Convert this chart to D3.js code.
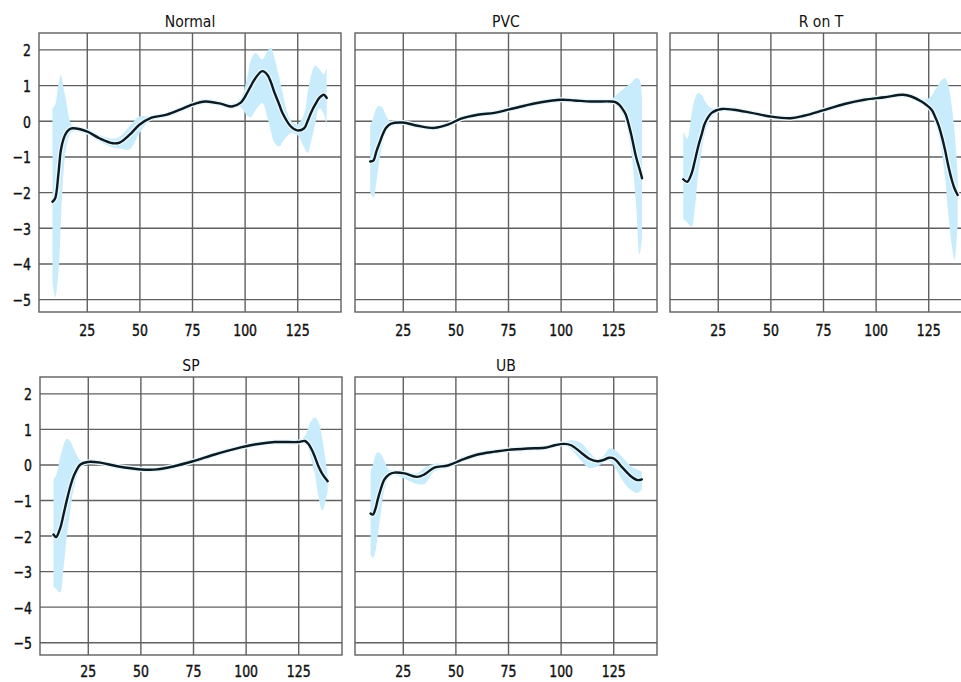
<!DOCTYPE html>
<html><head><meta charset="utf-8">
<script src="https://cdn.jsdelivr.net/npm/d3@7"></script>
<style>body{margin:0;background:#fff;} svg{display:block;font-family:"DejaVu Sans",sans-serif;}</style>
</head><body><svg id="c" width="961" height="682"></svg>
<script>
const panelTitles = ["Normal", "PVC", "R on T", "SP", "UB"];
const xTickValues = [25, 50, 75, 100, 125];
const yTickValues = [-5, -4, -3, -2, -1, 0, 1, 2];

const normalX    = [8.7, 10, 11.5, 12.7, 14, 15.1, 16.5, 18.3, 25, 31, 37.4, 40.6, 45.4, 50, 55, 63, 69.3, 75, 81.3, 88.5, 94, 98, 101.2, 103, 105.2, 108.4, 110.8, 112.5, 114, 116.5, 118, 122, 125, 128.3, 130, 131.5, 133.5, 135.5, 137.6, 139];
const normalMean = [-2.27, -2.17, -1.5, -0.82, -0.5, -0.35, -0.25, -0.21, -0.3, -0.49, -0.63, -0.61, -0.39, -0.11, 0.07, 0.17, 0.31, 0.45, 0.54, 0.48, 0.40, 0.5, 0.78, 0.98, 1.2, 1.39, 1.29, 1.08, 0.82, 0.45, 0.22, -0.16, -0.27, -0.21, 0.0, 0.22, 0.45, 0.64, 0.73, 0.64];
const normalHigh = [0.35, 0.45, 1.0, 1.28, 0.9, 0.6, 0.1, -0.15, -0.22, -0.4, -0.5, -0.45, -0.15, 0.12, 0.12, 0.22, 0.38, 0.52, 0.6, 0.54, 0.48, 0.62, 1.2, 1.7, 1.9, 1.72, 1.95, 2.05, 1.8, 1.2, 0.8, 0.0, -0.1, 0.2, 0.8, 1.25, 1.55, 1.45, 1.3, 1.5];
const normalLow  = [-4.5, -4.95, -4.3, -2.8, -1.4, -0.8, -0.45, -0.3, -0.38, -0.58, -0.75, -0.78, -0.8, -0.35, 0.0, 0.12, 0.25, 0.4, 0.48, 0.42, 0.33, 0.38, 0.15, 0.1, 0.3, 0.5, 0.1, -0.3, -0.6, -0.72, -0.6, -0.35, -0.4, -0.75, -0.9, -0.6, -0.1, 0.35, 0.2, -0.2];

const pvcX    = [9.5, 11, 12.5, 13.9, 15.5, 17, 19.5, 25, 32, 40, 46.4, 52.7, 60.6, 68.5, 75, 82.8, 90.7, 100.3, 106.6, 114.4, 123.9, 126, 127.8, 130, 131, 133.4, 135.8, 137.5, 138.7];
const pvcMean = [-1.14, -1.12, -0.85, -0.63, -0.38, -0.2, -0.08, -0.05, -0.14, -0.2, -0.11, 0.06, 0.17, 0.22, 0.31, 0.42, 0.52, 0.59, 0.57, 0.54, 0.54, 0.52, 0.45, 0.28, 0.17, -0.35, -1.0, -1.35, -1.61];
const pvcHigh = [-0.16, 0.1, 0.35, 0.42, 0.35, 0.15, -0.03, -0.01, -0.1, -0.16, -0.07, 0.1, 0.21, 0.26, 0.35, 0.46, 0.56, 0.63, 0.61, 0.58, 0.6, 0.7, 0.8, 0.9, 0.95, 1.05, 1.2, 1.15, 0.5];
const pvcLow  = [-2.0, -2.15, -1.7, -1.1, -0.6, -0.3, -0.13, -0.09, -0.18, -0.24, -0.15, 0.02, 0.13, 0.18, 0.27, 0.38, 0.48, 0.55, 0.53, 0.5, 0.5, 0.45, 0.35, 0.1, -0.05, -0.8, -2.3, -3.75, -3.3];

const ronTX    = [8.6, 10.5, 12.6, 14, 15.7, 17.5, 18.9, 22.1, 26.9, 32.5, 40.5, 50, 59.6, 66, 75, 85.2, 94.7, 104.3, 113, 117, 121.8, 124, 126.6, 128, 129.8, 131.5, 133, 134.5, 136.2, 137.5, 139];
const ronTMean = [-1.64, -1.71, -1.47, -1.15, -0.72, -0.35, -0.07, 0.22, 0.33, 0.31, 0.23, 0.12, 0.07, 0.14, 0.29, 0.47, 0.59, 0.66, 0.73, 0.68, 0.54, 0.45, 0.31, 0.15, -0.11, -0.45, -0.82, -1.25, -1.66, -1.9, -2.08];
const ronTHigh = [-0.3, -0.5, 0.2, 0.6, 0.78, 0.72, 0.55, 0.35, 0.37, 0.35, 0.27, 0.16, 0.11, 0.18, 0.33, 0.51, 0.63, 0.7, 0.77, 0.73, 0.6, 0.6, 0.7, 0.85, 1.0, 1.15, 1.2, 1.0, 0.4, -0.3, -1.5];
const ronTLow  = [-2.75, -2.85, -2.97, -2.5, -1.5, -0.8, -0.35, 0.1, 0.29, 0.27, 0.19, 0.08, 0.03, 0.1, 0.25, 0.43, 0.55, 0.62, 0.69, 0.64, 0.5, 0.4, 0.25, 0.0, -0.35, -0.9, -1.6, -2.6, -3.5, -3.9, -2.9];

const spX    = [8.7, 10, 11.9, 13.5, 15.1, 16.7, 18.3, 21.5, 25, 31, 39, 50.3, 58, 66, 75, 85.3, 95, 104.3, 113.8, 125, 128.2, 129.8, 131.4, 133, 134.6, 136.5, 139];
const spMean = [-1.97, -2.04, -1.79, -1.4, -0.99, -0.62, -0.33, 0.0, 0.07, 0.05, -0.05, -0.14, -0.14, -0.05, 0.09, 0.28, 0.44, 0.56, 0.63, 0.63, 0.66, 0.58, 0.42, 0.2, -0.05, -0.27, -0.47];
const spHigh = [-0.42, -0.3, 0.2, 0.55, 0.72, 0.65, 0.45, 0.12, 0.1, 0.08, -0.02, -0.11, -0.11, -0.02, 0.12, 0.31, 0.47, 0.59, 0.66, 0.66, 0.8, 1.05, 1.25, 1.32, 1.2, 0.7, -0.3];
const spLow  = [-3.45, -3.5, -3.6, -2.9, -2.0, -1.3, -0.7, -0.1, 0.03, 0.01, -0.09, -0.18, -0.18, -0.09, 0.05, 0.24, 0.4, 0.52, 0.59, 0.59, 0.6, 0.45, 0.1, -0.3, -0.9, -1.3, -0.75];

const ubX    = [9.7, 10.8, 12, 13.1, 14.5, 16.3, 18.5, 21, 25.8, 31.8, 35.3, 40, 46.4, 52.7, 60.6, 68.7, 75, 84.5, 92.4, 97.2, 101.6, 105, 109.8, 113.6, 117.6, 120.5, 123.1, 125.5, 129.4, 133.4, 136.6, 138.6];
const ubMean = [-1.38, -1.41, -1.25, -0.99, -0.7, -0.42, -0.28, -0.23, -0.25, -0.35, -0.28, -0.09, -0.03, 0.12, 0.28, 0.36, 0.41, 0.45, 0.47, 0.54, 0.58, 0.54, 0.33, 0.16, 0.09, 0.13, 0.19, 0.16, -0.09, -0.33, -0.44, -0.42];
const ubHigh = [-0.19, 0.0, 0.25, 0.35, 0.3, 0.1, -0.15, -0.18, -0.2, -0.25, -0.1, 0.02, 0.02, 0.16, 0.32, 0.4, 0.45, 0.49, 0.51, 0.58, 0.62, 0.68, 0.6, 0.35, 0.15, 0.25, 0.45, 0.42, 0.2, -0.05, -0.15, -0.2];
const ubLow  = [-2.55, -2.63, -2.45, -2.0, -1.4, -0.7, -0.35, -0.3, -0.4, -0.55, -0.55, -0.2, -0.1, 0.08, 0.24, 0.32, 0.37, 0.41, 0.43, 0.5, 0.54, 0.42, 0.1, -0.1, -0.05, 0.05, 0.1, -0.05, -0.45, -0.72, -0.8, -0.7];

const seriesX    = [normalX, pvcX, ronTX, spX, ubX];
const seriesMean = [normalMean, pvcMean, ronTMean, spMean, ubMean];
const seriesHigh = [normalHigh, pvcHigh, ronTHigh, spHigh, ubHigh];
const seriesLow  = [normalLow, pvcLow, ronTLow, spLow, ubLow];

// layout (pixels): [left, top, height, x-label baseline offset]
const panelPos = [[39, 33, 279, 24], [355, 33, 279, 24], [670, 33, 279, 24], [40, 377, 278, 22], [355, 377, 278, 22]];
const PW = 302;
const xDomain = [2.3, 145.8], yDomain = [-5.36, 2.46];

const svg = d3.select("#c");
const fmt = d => (d < 0 ? "\u2212" + Math.abs(d) : String(d));

panelTitles.forEach((title, i) => {
  const [left, top, PH, labOff] = panelPos[i];
  const g = svg.append("g").attr("transform", `translate(${left},${top})`);
  const x = d3.scaleLinear().domain(xDomain).range([0, PW]);
  const y = d3.scaleLinear().domain(yDomain).range([PH, 0]);
  const clipId = "clip" + i;
  g.append("clipPath").attr("id", clipId).append("rect").attr("width", PW).attr("height", PH);

  // grid + axes
  const yAx = g.append("g").call(d3.axisLeft(y).tickValues(yTickValues).tickSize(-PW).tickPadding(8)
      .tickFormat((i % 3 === 0) ? fmt : () => ""));
  const xAx = g.append("g").attr("transform", `translate(0,${PH})`)
      .call(d3.axisBottom(x).tickValues(xTickValues).tickSize(-PH).tickFormat(fmt));
  [yAx, xAx].forEach(a => {
    a.select(".domain").remove();
    a.selectAll("line").attr("stroke", "#606060").attr("stroke-width", 1.4);
    a.selectAll("text").attr("fill", "#111").attr("font-size", 12.5)
      .attr("stroke", "#111").attr("stroke-width", 0.35)
      .attr("font-family", "DejaVu Sans, sans-serif");
  });
  yAx.selectAll("text").attr("dy", null).attr("x", null)
     .attr("transform", "translate(-8,6.5) scale(1,1.3)").attr("text-anchor", "end");
  xAx.selectAll("text").attr("dy", null).attr("y", null)
     .attr("transform", `translate(0,${labOff}) scale(1,1.3)`).attr("text-anchor", "middle");

  const xs = seriesX[i];
  const pts = xs.map((v, k) => ({x: v, m: seriesMean[i][k], lo: seriesLow[i][k], hi: seriesHigh[i][k]}));
  const curve = d3.curveCatmullRom.alpha(0.5);
  const area = d3.area().x(d => x(d.x)).y0(d => y(d.lo)).y1(d => y(d.hi)).curve(curve);
  const line = d3.line().x(d => x(d.x)).y(d => y(d.m)).curve(curve);
  const body = g.append("g").attr("clip-path", `url(#${clipId})`);
  body.append("path").datum(pts).attr("d", area).attr("fill", "#c8ecfb").attr("stroke", "none");
  body.append("path").datum(pts).attr("d", line).attr("fill", "none")
      .attr("stroke", "#eaf8fe").attr("stroke-width", 5).attr("stroke-linejoin", "round");
  body.append("path").datum(pts).attr("d", line).attr("fill", "none")
      .attr("stroke", "#0c1a22").attr("stroke-width", 2.4).attr("stroke-linejoin", "round").attr("stroke-linecap", "round");

  g.append("rect").attr("width", PW).attr("height", PH).attr("fill", "none")
    .attr("stroke", "#606060").attr("stroke-width", 1.4);

  g.append("text").attr("text-anchor", "middle").attr("fill", "#111")
    .attr("font-size", 14).attr("transform", `translate(${PW / 2},-6.5) scale(1,1.15)`).text(title);
});
</script></body></html>
